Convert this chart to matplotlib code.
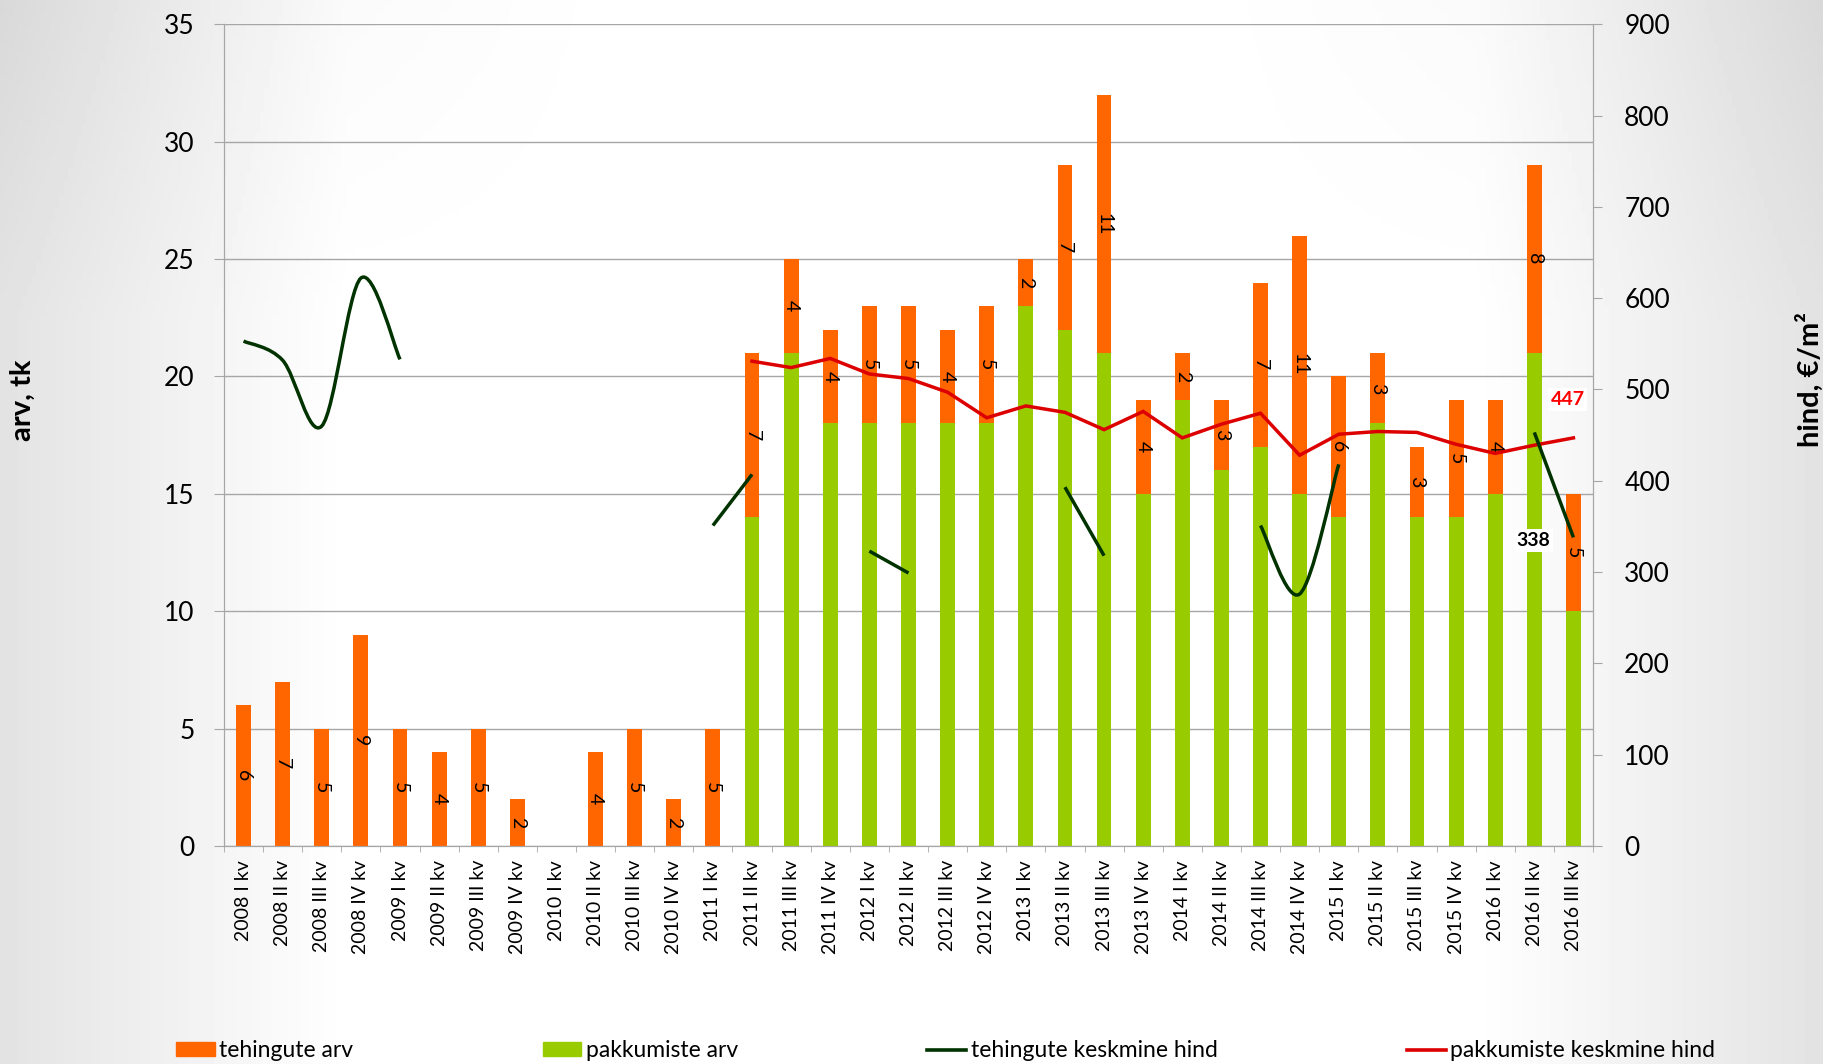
import numpy as np
import matplotlib.pyplot as plt
from matplotlib.path import Path
from matplotlib.patches import PathPatch, Patch
from matplotlib.lines import Line2D

plt.rcParams['font.family'] = ['Lato', 'DejaVu Sans']

quarters = ['2008 I kv', '2008 II kv', '2008 III kv', '2008 IV kv',
            '2009 I kv', '2009 II kv', '2009 III kv', '2009 IV kv',
            '2010 I kv', '2010 II kv', '2010 III kv', '2010 IV kv',
            '2011 I kv', '2011 II kv', '2011 III kv', '2011 IV kv',
            '2012 I kv', '2012 II kv', '2012 III kv', '2012 IV kv',
            '2013 I kv', '2013 II kv', '2013 III kv', '2013 IV kv',
            '2014 I kv', '2014 II kv', '2014 III kv', '2014 IV kv',
            '2015 I kv', '2015 II kv', '2015 III kv', '2015 IV kv',
            '2016 I kv', '2016 II kv', '2016 III kv']

# number of transactions (orange, stacked on top)
tehingute_arv = [6, 7, 5, 9, 5, 4, 5, 2, 0, 4, 5, 2, 5,
                 7, 4, 4, 5, 5, 4, 5, 2, 7, 11, 4, 2, 3, 7, 11, 6, 3, 3, 5, 4, 8, 5]
# number of offers (green, bottom)
pakkumiste_arv = [0, 0, 0, 0, 0, 0, 0, 0, 0, 0, 0, 0, 0,
                  14, 21, 18, 18, 18, 18, 18, 23, 22, 21, 15, 19, 16, 17, 15, 14, 18, 14, 14, 15, 21, 10]

nan = np.nan
# average transaction price, EUR/m2 (gaps where no data)
tehingute_hind = [553, 532, 460, 622, 533, nan, nan, nan, nan, nan, nan, nan,
                  351, 407, nan, nan, 323, 299, nan, nan, nan, 393, 318,
                  nan, nan, nan, 351, 276, 418, nan, nan, nan, nan, 453, 338]
# average offer price, EUR/m2
pakkumiste_hind = [nan] * 13 + [531, 524, 534, 517, 512, 497, 469, 482, 475, 456,
                                476, 447, 462, 474, 428, 451, 454, 453, 440, 430, 439, 447]

ORANGE = '#FF6600'
GREEN = '#99CC00'
DKGREEN = '#003300'
RED = '#DD0000'
GRID = '#A6A6A6'

fig = plt.figure(figsize=(18.23, 10.64), dpi=100)

# soft grey edges of the slide background
bg = fig.add_axes([0, 0, 1, 1], zorder=-10)
gx, gy = np.meshgrid(np.linspace(-1, 1, 400), np.linspace(-1, 1, 240))
shade = 1 - 0.11 * np.clip((np.abs(gx) - 0.62) / 0.38, 0, 1) \
          - 0.04 * np.clip((-gy - 0.4) / 0.6, 0, 1) * np.clip((np.abs(gx) - 0.3) / 0.7, 0, 1)
bg.imshow(shade, cmap='gray', vmin=0, vmax=1, aspect='auto', extent=[0, 1, 0, 1])
bg.axis('off')

ax = fig.add_axes([0.12287, 0.20489, 0.75096, 0.77227])
ax.patch.set_alpha(0)
x = np.arange(len(quarters))
w = 0.38

ax.bar(x, pakkumiste_arv, w, color=GREEN, zorder=2)
ax.bar(x, tehingute_arv, w, bottom=pakkumiste_arv, color=ORANGE, zorder=2)

for i, (g, o) in enumerate(zip(pakkumiste_arv, tehingute_arv)):
    if o > 0:
        ax.text(i, g + o / 2, str(o), rotation=-90, ha='center', va='center',
                fontsize=14, color='black', zorder=3)

ax.set_xlim(-0.5, len(quarters) - 0.5)
ax.set_ylim(0, 35)
ax.set_yticks(range(0, 36, 5))
ax.yaxis.grid(True, color=GRID, lw=1)
ax.set_axisbelow(True)
ax.set_xticks(x)
ax.set_xticklabels(quarters, rotation=90, fontsize=14)
ax.set_xticks(np.arange(-0.5, len(quarters)), minor=True)
ax.tick_params(axis='x', which='major', length=0, pad=10)
ax.tick_params(axis='x', which='minor', length=4.5, color=GRID, direction='out')
ax.tick_params(axis='y', length=7, color=GRID, labelsize=19, pad=14)
for s in ['left', 'bottom', 'right']:
    ax.spines[s].set_color(GRID)
ax.spines['top'].set_visible(False)

ax2 = ax.twinx()
ax2.set_ylim(0, 900)
ax2.set_yticks(range(0, 901, 100))
ax2.tick_params(axis='y', length=6.5, color=GRID, labelsize=19, pad=16)
for s in ['left', 'bottom', 'right']:
    ax2.spines[s].set_color(GRID)
ax2.spines['top'].set_visible(False)

ax2.plot(x, pakkumiste_hind, color=RED, lw=2.5, solid_joinstyle='miter', zorder=4)


def smooth_path(xs, ys):
    # cubic Bezier through the points, like a spreadsheet "smoothed line"
    pts = np.column_stack([xs, ys])
    verts = [pts[0]]
    codes = [Path.MOVETO]
    n = len(pts)
    for k in range(n - 1):
        p0 = pts[k - 1] if k > 0 else pts[k]
        p1, p2 = pts[k], pts[k + 1]
        p3 = pts[k + 2] if k + 2 < n else pts[k + 1]
        verts += [p1 + (p2 - p0) / 6, p2 - (p3 - p1) / 6, p2]
        codes += [Path.CURVE4] * 3
    return Path(verts, codes)


# draw each unbroken run of the transaction price as its own smoothed curve
th = np.array(tehingute_hind, dtype=float)
run = []
for i in range(len(th) + 1):
    if i < len(th) and not np.isnan(th[i]):
        run.append(i)
        continue
    if len(run) > 1:
        p = smooth_path(x[run].astype(float), th[run])
        ax2.add_patch(PathPatch(p, fill=False, ec=DKGREEN, lw=2.5, zorder=5,
                                capstyle='butt'))
    run = []

box = dict(boxstyle='square,pad=0.15', fc='white', ec='none')
ax2.annotate('338', (x[-1], tehingute_hind[-1]), xytext=(-40, -3),
             textcoords='offset pixels', ha='center', va='center',
             fontsize=14, fontweight='bold', color='black', bbox=box, zorder=6)
ax2.annotate('447', (x[-1], pakkumiste_hind[-1]), xytext=(-6, 38),
             textcoords='offset pixels', ha='center', va='center',
             fontsize=14, fontweight='bold', color='#FF0000', bbox=box, zorder=6)

fig.text(0.0126, 0.624, 'arv, tk', rotation=90, ha='center', va='center',
         fontsize=21, fontweight='bold')
fig.text(0.9925, 0.643, 'hind, €/m²', rotation=90, ha='center', va='center',
         fontsize=21, fontweight='bold')

handles = [Patch(color=ORANGE), Patch(color=GREEN),
           Line2D([], [], color=DKGREEN, lw=2.6), Line2D([], [], color=RED, lw=2.6)]
labels = ['tehingute arv', 'pakkumiste arv',
          'tehingute keskmine hind', 'pakkumiste keskmine hind']
fig.legend(handles, labels, ncol=4, loc='center left', bbox_to_anchor=(0.0965, 0.0125),
           frameon=False, fontsize=16.5, handlelength=1.7, handleheight=0.6,
           handletextpad=0.2, columnspacing=8.25, borderpad=0, borderaxespad=0)

fig.savefig('out.png', dpi=100)
